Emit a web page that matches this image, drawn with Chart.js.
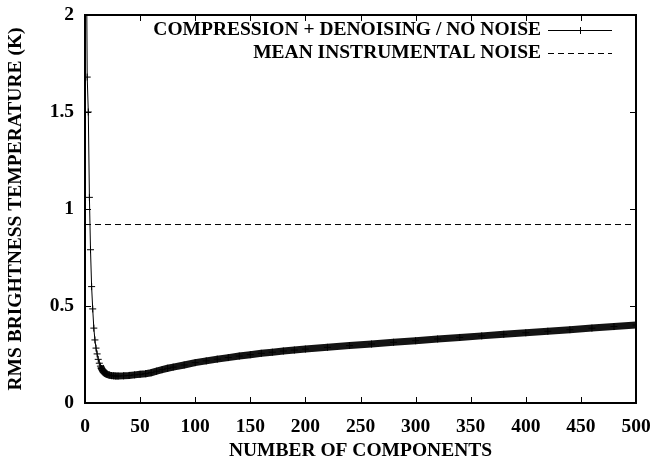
<!DOCTYPE html>
<html>
<head>
<meta charset="utf-8">
<script src="https://cdn.jsdelivr.net/npm/chart.js@4"></script>
<style>
  html, body { margin: 0; padding: 0; background: #fff; }
  #wrap { width: 652px; height: 463px; }
</style>
</head>
<body>
<div id="wrap"><canvas id="rmsChart" width="652" height="463"></canvas></div>
<script>
// number of components kept vs RMS residual (K)
const components = [1, 2, 3, 4, 5, 6, 7, 8, 9, 10, 11, 12, 13, 14, 15, 16, 17, 18, 19, 20,
  22, 24, 26, 28, 30, 35, 40, 45, 50, 55, 60, 65, 70, 75, 80, 90,
  100, 110, 120, 130, 140, 150, 160, 170, 180, 190, 200, 220, 240, 260, 280,
  300, 320, 340, 360, 380, 400, 420, 440, 460, 480, 500];
const rmsTemp = [2.6, 1.68, 1.50, 1.06, 0.79, 0.60, 0.485, 0.386, 0.325, 0.283, 0.253, 0.225, 0.205, 0.19, 0.178, 0.168, 0.161, 0.155, 0.151, 0.148,
  0.144, 0.141, 0.140, 0.139, 0.139, 0.140, 0.142, 0.145, 0.148, 0.151, 0.156, 0.164, 0.172, 0.179, 0.185, 0.196,
  0.208, 0.217, 0.226, 0.234, 0.242, 0.249, 0.256, 0.262, 0.268, 0.273, 0.278, 0.287, 0.296, 0.304, 0.313,
  0.321, 0.330, 0.338, 0.346, 0.354, 0.362, 0.370, 0.378, 0.386, 0.394, 0.402];
const noiseLevel = 0.92;
const xTicks = [0, 50, 100, 150, 200, 250, 300, 350, 400, 450, 500];
const yTicks = [0, 0.5, 1, 1.5, 2];
const seriesLabels = ["COMPRESSION + DENOISING / NO NOISE", "MEAN INSTRUMENTAL NOISE"];

const FONT = "'Liberation Serif', 'Times New Roman', serif";
const FSIZE = 19.5;

// gnuplot-like frame with inward ticks on all four sides
const frameTicks = {
  id: "frameTicks",
  afterDraw(chart) {
    const { ctx, chartArea: a, scales: { x, y } } = chart;
    ctx.save();
    ctx.strokeStyle = "#000";
    ctx.lineWidth = 1;
    xTicks.forEach(v => {
      const px = Math.round(x.getPixelForValue(v)) + 0.5;
      ctx.beginPath();
      ctx.moveTo(px, a.bottom); ctx.lineTo(px, a.bottom - 6);
      ctx.moveTo(px, a.top); ctx.lineTo(px, a.top + 6);
      ctx.stroke();
    });
    yTicks.forEach(v => {
      const py = Math.round(y.getPixelForValue(v)) + 0.5;
      ctx.beginPath();
      ctx.moveTo(a.left, py); ctx.lineTo(a.left + 6, py);
      ctx.moveTo(a.right, py); ctx.lineTo(a.right - 6, py);
      ctx.stroke();
    });
    ctx.lineWidth = 2;
    ctx.strokeRect(a.left, a.top, a.right - a.left, a.bottom - a.top);

    // key in the top right corner: text then sample
    ctx.font = "bold " + FSIZE + "px " + FONT;
    ctx.fillStyle = "#000";
    ctx.textAlign = "right";
    ctx.textBaseline = "middle";
    const textRight = 541, s0 = 548, s1 = 612;
    const rows = [30, 53];
    ctx.fillText(seriesLabels[0], textRight, rows[0]);
    ctx.fillText(seriesLabels[1], textRight, rows[1]);
    ctx.lineWidth = 1;
    ctx.beginPath();
    ctx.moveTo(s0, rows[0] + 0.5); ctx.lineTo(s1, rows[0] + 0.5);
    const cx = Math.round((s0 + s1) / 2);
    ctx.moveTo(cx + 0.5, rows[0] - 3); ctx.lineTo(cx + 0.5, rows[0] + 4);
    ctx.stroke();
    ctx.setLineDash([6, 4]);
    ctx.beginPath();
    ctx.moveTo(s0, rows[1] + 0.5); ctx.lineTo(s1, rows[1] + 0.5);
    ctx.stroke();
    ctx.restore();
  }
};

new Chart(document.getElementById("rmsChart"), {
  type: "line",
  data: {
    datasets: [
      {
        label: seriesLabels[0],
        data: components.map((c, i) => ({ x: c, y: rmsTemp[i] })),
        borderColor: "#000",
        backgroundColor: "#000",
        borderWidth: 1,
        pointStyle: "cross",
        pointRadius: 3.5,
        pointBorderWidth: 1,
        tension: 0,
        segment: {
          // past the knee the markers pile up into a solid band
          borderWidth: ctx => ctx.p0.parsed.x >= 14 ? 7 : 1,
          borderColor: ctx => ctx.p0.parsed.x >= 14 ? "#141414" : "#000"
        }
      },
      {
        label: seriesLabels[1],
        data: [{ x: 0, y: noiseLevel }, { x: 500, y: noiseLevel }],
        borderColor: "#000",
        borderWidth: 1,
        borderDash: [6, 4],
        pointRadius: 0
      }
    ]
  },
  options: {
    responsive: false,
    animation: false,
    layout: { padding: { left: 0, right: 16, top: 15, bottom: 0 } },
    plugins: { legend: { display: false }, tooltip: { enabled: false } },
    scales: {
      x: {
        type: "linear",
        min: 0, max: 500,
        afterBuildTicks: s => { s.ticks = xTicks.map(v => ({ value: v })); },
        afterFit: s => { s.height = 60; s.paddingLeft = 0; s.paddingRight = 0; },
        grid: { display: false },
        border: { display: false },
        ticks: { color: "#000", padding: 4, maxRotation: 0, font: { family: FONT, size: FSIZE, weight: "bold" } },
        title: {
          display: true, text: "NUMBER OF COMPONENTS", color: "#000", padding: { top: 0, bottom: 0 },
          font: { family: FONT, size: FSIZE, weight: "bold" }
        }
      },
      y: {
        min: 0, max: 2,
        afterBuildTicks: s => { s.ticks = yTicks.map(v => ({ value: v })); },
        afterFit: s => { s.width = 85; s.paddingTop = 0; s.paddingBottom = 0; },
        grid: { display: false },
        border: { display: false },
        ticks: {
          color: "#000", padding: 3, font: { family: FONT, size: FSIZE, weight: "bold" },
          callback: v => String(v)
        },
        title: {
          display: true, text: "RMS BRIGHTNESS TEMPERATURE (K)", color: "#000", padding: { top: 4, bottom: 0 },
          font: { family: FONT, size: FSIZE, weight: "bold" }
        }
      }
    }
  },
  plugins: [frameTicks]
});
</script>
</body>
</html>
